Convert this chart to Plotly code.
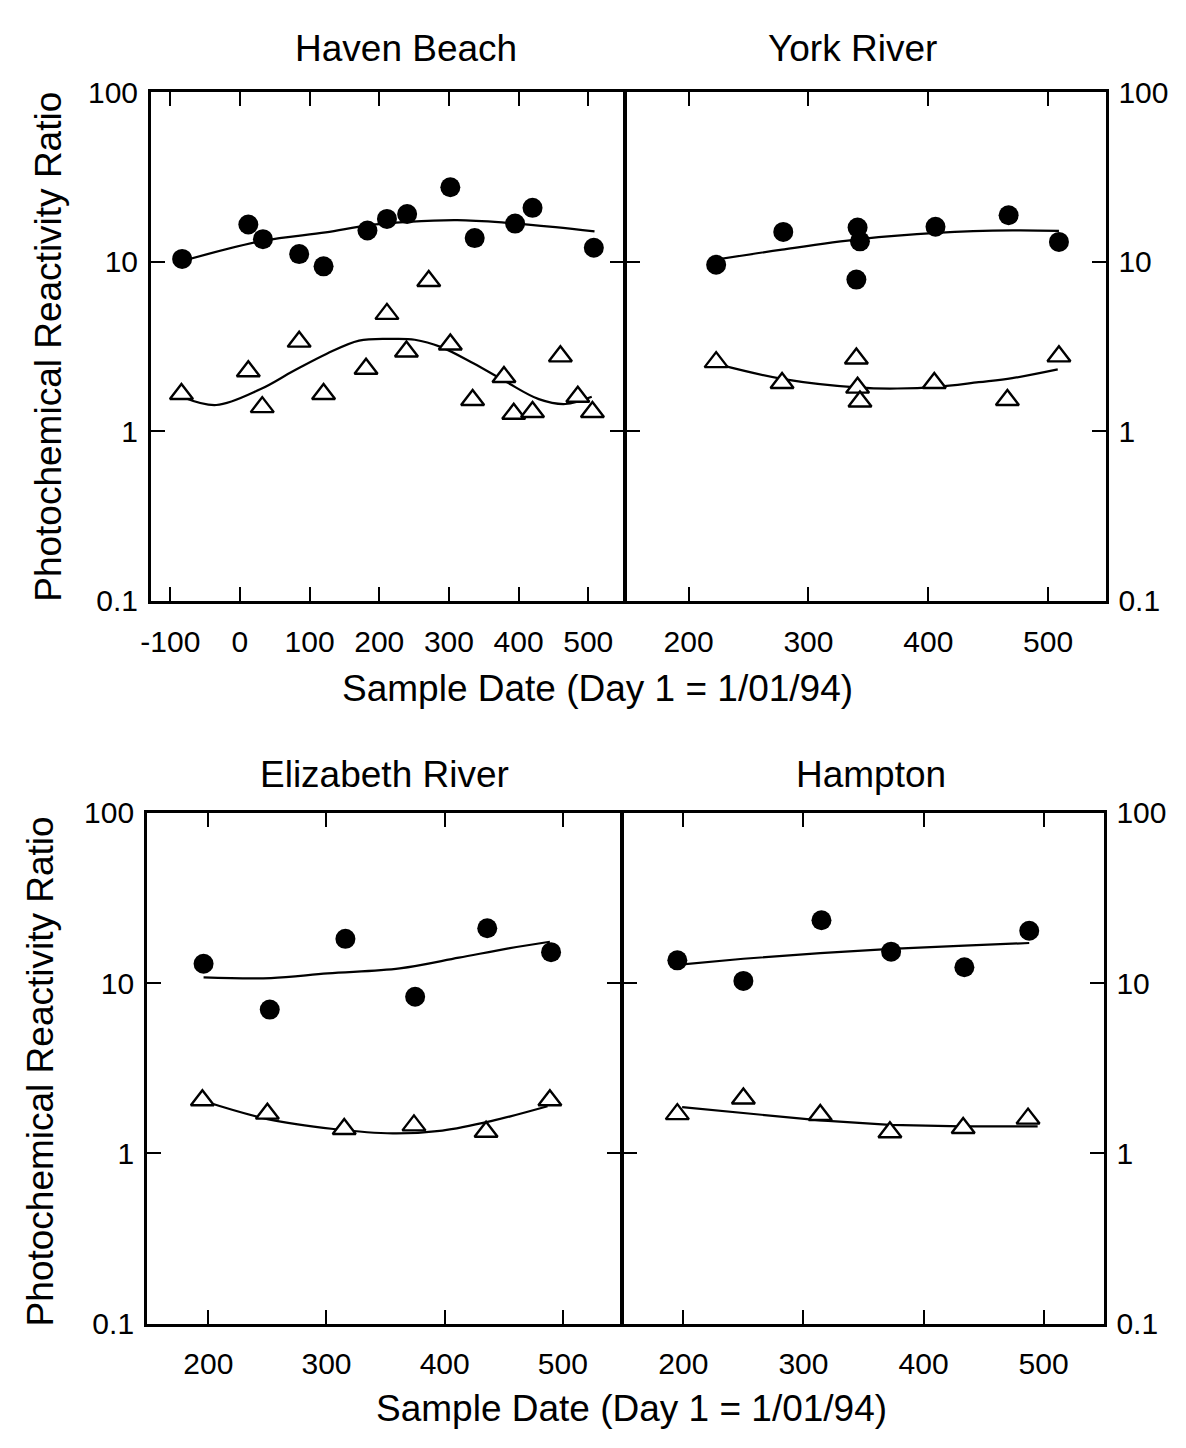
import plotly.graph_objects as go

W, H = 1186, 1448
FONT = "Liberation Sans, Arial, sans-serif"

# ---------------- data ----------------
# Haven Beach
hb_circ_x = [-83, 12, 33, 85, 120, 183, 211, 240, 302, 337, 395, 420, 508]
hb_circ_y = [10.4, 16.6, 13.6, 11.1, 9.4, 15.3, 17.9, 19.1, 27.5, 13.8, 16.8, 20.8, 12.1]
hb_tri_x = [-84, 12, 32, 85, 120, 181, 211, 239, 271, 302, 334, 379, 393, 420, 460, 485, 506]
hb_tri_y = [1.66, 2.26, 1.39, 3.38, 1.66, 2.34, 4.93, 2.96, 7.7, 3.25, 1.53, 2.09, 1.27, 1.30, 2.77, 1.60, 1.30]
hb_cfit_x = [-83, 33, 123, 183, 241, 312, 382, 453, 509]
hb_cfit_y = [10.1, 13.3, 14.9, 16.4, 17.2, 17.6, 17.0, 16.0, 15.1]
hb_tfit_x = [-80, -34, 29, 76, 124, 171, 218, 251, 288, 335, 382, 429, 467, 505]
hb_tfit_y = [1.58, 1.43, 1.77, 2.26, 2.86, 3.43, 3.51, 3.47, 3.15, 2.52, 1.96, 1.55, 1.45, 1.60]

# York River
yr_circ_x = [223, 279, 341, 343, 340, 406, 467, 509]
yr_circ_y = [9.6, 15.0, 15.9, 13.2, 7.85, 16.1, 18.8, 13.1]
yr_tri_x = [223, 278, 340, 341, 343, 405, 466, 509]
yr_tri_y = [2.56, 1.93, 2.69, 1.81, 1.50, 1.93, 1.53, 2.77]
yr_cfit_x = [223, 278, 343, 407, 470, 509]
yr_cfit_y = [10.3, 11.8, 13.6, 14.8, 15.3, 15.2]
yr_tfit_x = [224, 278, 343, 374, 407, 442, 470, 508]
yr_tfit_y = [2.49, 2.04, 1.81, 1.79, 1.83, 1.95, 2.06, 2.32]

# Elizabeth River
er_circ_x = [196, 252, 316, 375, 436, 490]
er_circ_y = [13.0, 6.99, 18.2, 8.32, 21.0, 15.2]
er_tri_x = [195, 250, 315, 374, 435, 489]
er_tri_y = [2.05, 1.71, 1.39, 1.46, 1.34, 2.05]
er_cfit_x = [196, 253, 301, 362, 412, 454, 489]
er_cfit_y = [10.8, 10.7, 11.4, 12.2, 14.1, 16.0, 17.5]
er_tfit_x = [196, 250, 306, 356, 398, 440, 487]
er_tfit_y = [2.03, 1.59, 1.39, 1.31, 1.36, 1.55, 1.89]

# Hampton
hp_circ_x = [195, 250, 315, 373, 434, 488]
hp_circ_y = [13.6, 10.3, 23.4, 15.3, 12.4, 20.3]
hp_tri_x = [195, 250, 314, 372, 433, 487]
hp_tri_y = [1.70, 2.10, 1.68, 1.33, 1.41, 1.60]
hp_cfit_x = [195, 250, 314, 373, 434, 488]
hp_cfit_y = [12.8, 13.9, 15.0, 15.9, 16.6, 17.2]
hp_tfit_x = [199, 245, 314, 372, 432, 495]
hp_tfit_y = [1.87, 1.74, 1.56, 1.47, 1.44, 1.44]

panel_titles = ["Haven Beach", "York River", "Elizabeth River", "Hampton"]
y_tickvals = [0.1, 1, 10, 100]
y_ticktext = ["0.1", "1", "10", "100"]
hb_xticks = [-100, 0, 100, 200, 300, 400, 500]
hb_xtext = ["-100", "0", "100", "200", "300", "400", "500"]
other_xticks = [200, 300, 400, 500]
other_xtext = ["200", "300", "400", "500"]
x_title = "Sample Date (Day 1 = 1/01/94)"
y_title = "Photochemical Reactivity Ratio"

panels = [
    dict(cx=hb_circ_x, cy=hb_circ_y, tx=hb_tri_x, ty=hb_tri_y,
         cfx=hb_cfit_x, cfy=hb_cfit_y, tfx=hb_tfit_x, tfy=hb_tfit_y, spline=True),
    dict(cx=yr_circ_x, cy=yr_circ_y, tx=yr_tri_x, ty=yr_tri_y,
         cfx=yr_cfit_x, cfy=yr_cfit_y, tfx=yr_tfit_x, tfy=yr_tfit_y, spline=True),
    dict(cx=er_circ_x, cy=er_circ_y, tx=er_tri_x, ty=er_tri_y,
         cfx=er_cfit_x, cfy=er_cfit_y, tfx=er_tfit_x, tfy=er_tfit_y, spline=True),
    dict(cx=hp_circ_x, cy=hp_circ_y, tx=hp_tri_x, ty=hp_tri_y,
         cfx=hp_cfit_x, cfy=hp_cfit_y, tfx=hp_tfit_x, tfy=hp_tfit_y, spline=False),
]

LW = 2.5
# pixel layout (left, right, top, bottom) of the plotting areas
boxes = [(142, 619, 77, 598), (619 + LW, 1105, 77, 598),
         (138, 616, 815, 1338), (616 + LW, 1103, 815, 1338)]
xranges = [[-128, 551], [148, 548], [148, 549], [150, 550]]

fig = go.Figure()
for i, p in enumerate(panels):
    n = "" if i == 0 else str(i + 1)
    xa, ya = "x" + n, "y" + n
    shape = "spline" if p["spline"] else "linear"
    fig.add_trace(go.Scatter(x=p["cfx"], y=p["cfy"], mode="lines", xaxis=xa, yaxis=ya,
                             line=dict(color="black", width=2.2, shape=shape), showlegend=False))
    fig.add_trace(go.Scatter(x=p["tfx"], y=p["tfy"], mode="lines", xaxis=xa, yaxis=ya,
                             line=dict(color="black", width=2.2, shape=shape), showlegend=False))
    fig.add_trace(go.Scatter(x=p["cx"], y=p["cy"], mode="markers", xaxis=xa, yaxis=ya,
                             marker=dict(symbol="circle", size=20, color="black"),
                             showlegend=False))
    fig.add_trace(go.Scatter(x=p["tx"], y=p["ty"], mode="markers", xaxis=xa, yaxis=ya,
                             marker=dict(symbol="triangle-up", size=20, color="white",
                                         line=dict(color="black", width=2.4)),
                             showlegend=False))

    l, r, t, b = boxes[i]
    common = dict(showline=True, linecolor="black", linewidth=LW, mirror="ticks",
                  ticks="inside", ticklen=14, tickwidth=2, tickcolor="black",
                  showgrid=False, zeroline=False,
                  tickfont=dict(family=FONT, size=30, color="black"))
    fig.layout["xaxis" + n] = dict(
        common, domain=[l / W, r / W], range=xranges[i], anchor=ya,
        tickvals=hb_xticks if i == 0 else other_xticks,
        ticktext=hb_xtext if i == 0 else other_xtext, ticklabelstandoff=12)
    fig.layout["yaxis" + n] = dict(
        common, domain=[1 - b / H, 1 - t / H], type="log", range=[-1, 2], anchor=xa,
        tickvals=y_tickvals, ticktext=y_ticktext,
        side="left" if i % 2 == 0 else "right", ticklabelstandoff=4)

annots = []
title_pos = [(399, 32), (850, 32), (378, 776), (868, 776)]
for txt, (x, y) in zip(panel_titles, title_pos):
    annots.append(dict(text=txt, x=x / W, y=1 - y / H, xref="paper", yref="paper",
                       showarrow=False, xanchor="center", yanchor="middle",
                       font=dict(family=FONT, size=37, color="black")))
for (x, y) in [(592, 688), (627, 1425)]:
    annots.append(dict(text=x_title, x=x / W, y=1 - y / H, xref="paper", yref="paper",
                       showarrow=False, xanchor="center", yanchor="middle",
                       font=dict(family=FONT, size=37, color="black")))
for (x, y) in [(38, 338), (31, 1080)]:
    annots.append(dict(text=y_title, x=x / W, y=1 - y / H, xref="paper", yref="paper",
                       showarrow=False, xanchor="center", yanchor="middle", textangle=-90,
                       font=dict(family=FONT, size=37, color="black")))

fig.update_layout(width=W, height=H, margin=dict(l=0, r=0, t=0, b=0),
                  paper_bgcolor="white", plot_bgcolor="white", annotations=annots)

fig.write_html("out.html", config={"displayModeBar": False},
               post_script="document.body.style.margin='0';")
